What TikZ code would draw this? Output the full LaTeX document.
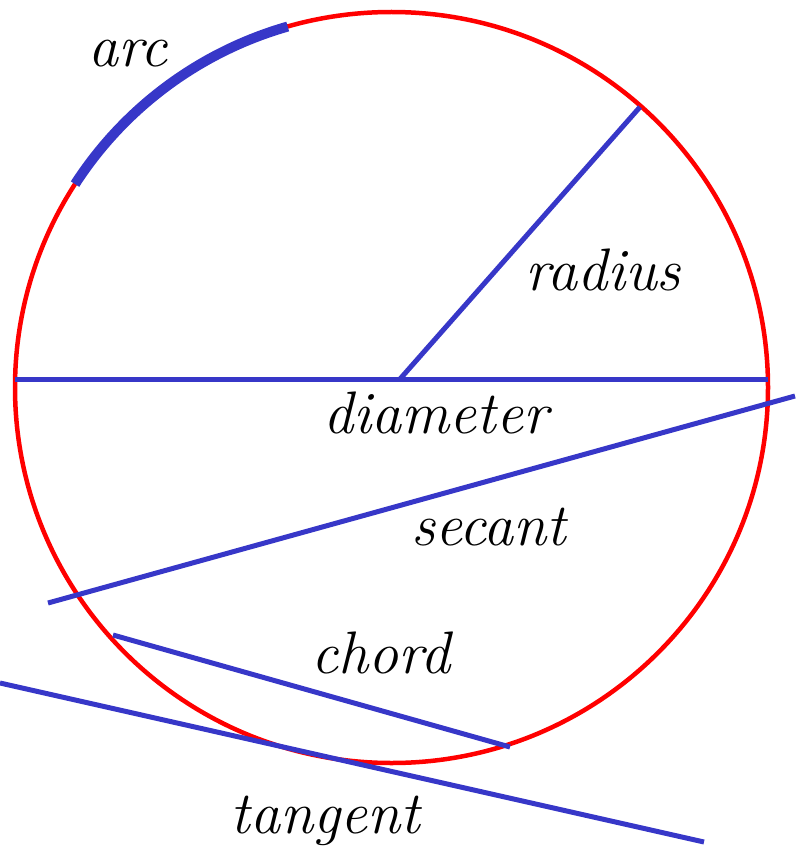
\documentclass[tikz,border=0pt]{standalone}
\definecolor{lblue}{RGB}{55,55,200}
\begin{document}
\begin{tikzpicture}[x=1pt,y=-1pt,
  blueline/.style={draw=lblue,line width=5pt},
  lbl/.style={font=\itshape\fontsize{60}{60}\selectfont,anchor=base,inner sep=0pt}]
\useasboundingbox (0,0) rectangle (795,848);
\coordinate (c) at (391.5,387.5);
\draw[red,line width=4.5pt] (c) ellipse [x radius=376.5,y radius=375.5];
% diameter
\coordinate (dL) at (15,379);
\coordinate (dR) at (768,379);
\coordinate (rc) at (400,379);
\coordinate (rE) at (640,107);
\draw[blueline] (dL) -- (dR);
\draw[blueline] (rc) -- (rE);
% arc
\draw[draw=lblue,line width=10pt] ([shift={(147.2:376.5 and -375.5)}]c) arc [start angle=-147.2,end angle=-106,x radius=376.5,y radius=375.5];
% secant
\coordinate (s1) at (48,603);
\coordinate (s2) at (795,396);
\draw[blueline] (s1) -- (s2);
% chord
\coordinate (ch1) at (113,635);
\coordinate (ch2) at (510,747);
\draw[blueline] (ch1) -- (ch2);
% tangent
\coordinate (t1) at (0,683);
\coordinate (t2) at (704,842);
\draw[blueline] (t1) -- (t2);
\node[lbl] (larc) at (128,67) {arc};
\node[lbl] (lrad) at (603,290) {radius};
\node[lbl] (ldia) at (436,433) {diameter};
\node[lbl] (lsec) at (489,545) {secant};
\node[lbl] (lcho) at (381,673) {chord};
\node[lbl] (ltan) at (325,833) {tangent};
\end{tikzpicture}
\end{document}
